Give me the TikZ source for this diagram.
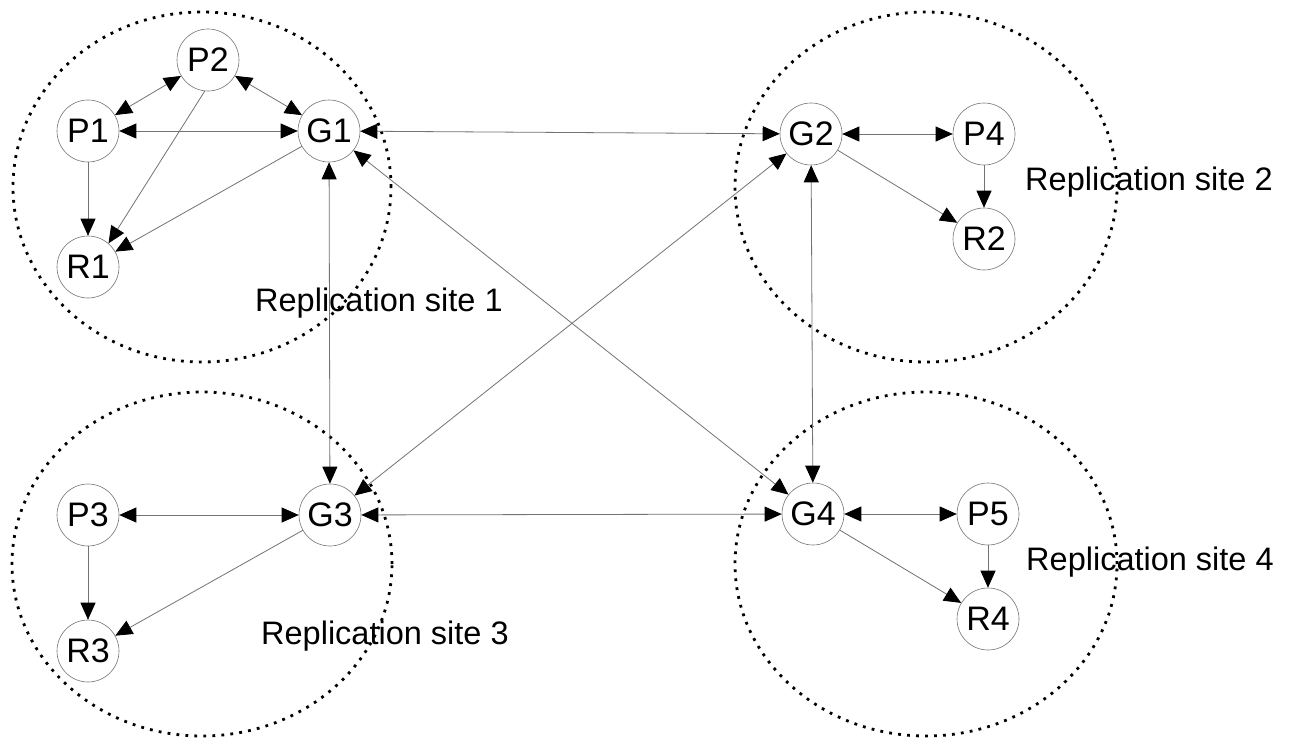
\documentclass[tikz,border=0pt]{standalone}
\usepackage{fontspec}
\setmainfont{Liberation Sans}
\usetikzlibrary{arrows.meta}
\begin{document}
\begin{tikzpicture}[x=1pt,y=-1pt,
  >={Triangle[length=17pt,width=15pt,color=black]},
  site/.style={draw=black, line width=2.8pt, dash pattern=on 2.8pt off 6.2pt},
  proc/.style={circle, draw=black!55, line width=0.6pt, minimum size=62pt, inner sep=0pt, font=\fontsize{34}{34}\selectfont},
  conn/.style={draw=black!55, line width=0.8pt},
  one/.style={conn,->},
  two/.style={conn,<->},
  lbl/.style={anchor=base west, inner sep=0pt, font=\fontsize{32.5}{33}\selectfont}]
\fill[white] (0,0) rectangle (1292,744);
\useasboundingbox (0,0) rectangle (1292,744);

% replication sites
\draw[site] (202,187) ellipse [x radius=189pt, y radius=175pt];
\draw[site] (926,187) ellipse [x radius=191pt, y radius=175pt];
\draw[site] (202,564) ellipse [x radius=190pt, y radius=172pt];
\draw[site] (926,564) ellipse [x radius=191pt, y radius=172pt];

% nodes
\node[proc] (P1) at (88,131) {P1};
\node[proc] (P2) at (208,60) {P2};
\node[proc] (G1) at (329,131) {G1};
\node[proc] (R1) at (88,267) {R1};
\node[proc] (G2) at (811,134) {G2};
\node[proc] (P4) at (984,134) {P4};
\node[proc] (R2) at (984,239) {R2};
\node[proc] (P3) at (88,515) {P3};
\node[proc] (G3) at (330,515) {G3};
\node[proc] (R3) at (88,651) {R3};
\node[proc] (G4) at (813,514) {G4};
\node[proc] (P5) at (988,514) {P5};
\node[proc] (R4) at (988,619) {R4};

% site 1
\draw[two] (P1) -- (P2);
\draw[two] (P2) -- (G1);
\draw[two] (P1) -- (G1);
\draw[one] (P1) -- (R1);
\draw[one] (P2.-96) -- (R1.49);
\draw[one] (G1) -- (R1);
% site 2
\draw[two] (G2) -- (P4);
\draw[one] (P4) -- (R2);
\draw[one] (G2) -- (R2);
% site 3
\draw[two] (P3) -- (G3);
\draw[one] (P3) -- (R3);
\draw[one] (G3) -- (R3);
% site 4
\draw[two] (G4) -- (P5);
\draw[one] (P5) -- (R4);
\draw[one] (G4) -- (R4);
% between sites
\draw[two] (G1) -- (G2);
\draw[two] (G1) -- (G3);
\draw[two] (G1) -- (G4);
\draw[two] (G2) -- (G3);
\draw[two] (G2) -- (G4);
\draw[two] (G3) -- (G4);

% labels
\node[lbl] (L1) at (255,311) {Replication site 1};
\node[lbl] (L2) at (1025,190) {Replication site 2};
\node[lbl] (L3) at (261,644) {Replication site 3};
\node[lbl] (L4) at (1026,570) {Replication site 4};
\end{tikzpicture}
\end{document}
